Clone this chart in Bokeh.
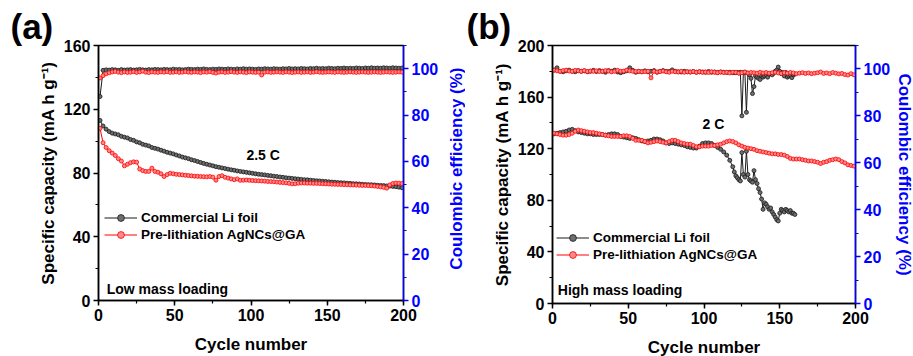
import math
from bokeh.plotting import figure
from bokeh.models import Range1d, LinearAxis, SingleIntervalTicker, Legend, LegendItem, Label
from bokeh.layouts import row
from bokeh.embed import file_html
from bokeh.resources import INLINE

FONT = "Liberation Sans"
BLUE = "#0000ff"
BLACK_LINE = "#1a1a1a"
BLACK_FILL = "#6e6e6e"
RED_LINE = "#ff0000"
RED_FILL = "#ff8a8a"

# ---------------- data: panel (a), low mass loading ----------------
cycles_a = list(range(1, 200, 2))
cap_li_a = [113, 109.5, 107.5, 106, 105, 104.5, 104, 103, 102.5, 102,
            101, 100.5, 99.5, 99, 98, 97.5, 97, 96, 95.5, 95,
            94.3, 93.7, 93, 92.5, 92, 91.3, 90.7, 90, 89.5, 89,
            88.3, 87.8, 87.2, 86.6, 86, 85.5, 85, 84.5, 84, 83.6,
            83.2, 82.8, 82.4, 82, 81.7, 81.3, 81, 80.7, 80.4, 80.1,
            79.8, 79.5, 79.2, 79, 78.8, 78.5, 78.3, 78, 77.8, 77.5,
            77.3, 77, 76.8, 76.6, 76.4, 76.2, 76, 75.8, 75.7, 75.5,
            75.3, 75.1, 75, 74.8, 74.7, 74.5, 74.3, 74.2, 74, 73.9,
            73.8, 73.6, 73.5, 73.3, 73.2, 73.1, 72.9, 72.8, 72.7, 72.6,
            72.5, 72.3, 72.2, 72.1, 71.9, 71.8, 71.6, 71.4, 71.1, 70.8]
cap_ag_a = [108, 99, 96, 94, 92.5, 91, 89, 87.5, 84.5, 85.5,
            86.5, 87, 86.8, 82.5, 81.5, 81, 81, 83, 81, 80.5,
            79.5, 77.8, 79, 79.8, 79.5, 79.2, 79, 78.8, 78.6, 78.4,
            78.2, 78, 77.9, 77.8, 77.7, 77.6, 77.8, 77.4, 75.5, 77.8,
            78.3, 77.3, 76.8, 76.3, 75.8, 76.3, 75.4, 75.5, 75.6, 75.4,
            75.3, 75.2, 75.1, 75, 74.9, 74.7, 74.6, 74.5, 74.3, 74.1,
            74, 73.8, 73.5, 73.2, 73.3, 73.6, 73.7, 73.7, 73.6, 73.6,
            73.5, 73.5, 73.4, 73.3, 73.2, 73.1, 73, 72.9, 72.8, 72.8,
            72.7, 72.6, 72.5, 72.5, 72.4, 72.3, 72.2, 72.2, 72.1, 72,
            71.8, 71.6, 71.3, 71, 70.5, 72.5, 73.4, 73.7, 73.6, 73.4]
ce_li_a = [88.0, 99.3, 99.5, 99.4, 99.6, 99.5, 99.3, 99.6, 99.4, 99.5,
           99.6, 99.4, 99.5, 99.7, 99.5, 99.4, 99.6, 99.5, 99.7, 99.6,
           99.5, 99.7, 99.6, 99.5, 99.8, 99.6, 99.7, 99.5, 99.6, 99.8,
           99.7, 99.6, 99.8, 99.7, 99.9, 99.7, 99.6, 99.8, 99.7, 99.9,
           99.8, 99.7, 99.9, 99.8, 99.7, 99.9, 99.8, 100.0, 99.8, 99.9,
           99.8, 99.7, 99.9, 99.8, 100.0, 99.9, 99.8, 100.0, 99.9, 99.8,
           100.0, 99.9, 100.1, 99.9, 100.0, 99.9, 100.1, 100.0, 99.9, 100.1,
           100.0, 100.2, 100.0, 100.1, 100.0, 100.2, 100.1, 100.0, 100.2, 100.1,
           100.3, 100.1, 100.2, 100.1, 100.3, 100.2, 100.1, 100.3, 100.2, 100.4,
           100.2, 100.3, 100.2, 100.4, 100.3, 100.2, 100.4, 100.3, 100.2, 100.3]
ce_ag_a = [96.0, 97.0, 97.8, 98.2, 98.6, 98.8, 98.5, 98.3, 98.6, 98.4,
           98.5, 98.7, 98.4, 98.6, 98.9, 98.5, 98.3, 98.6, 98.5, 98.4,
           98.6, 98.5, 98.7, 98.4, 98.5, 98.6, 98.4, 98.5, 98.7, 98.5,
           98.4, 98.6, 98.5, 98.3, 98.6, 98.5, 98.7, 98.4, 98.1, 98.5,
           98.6, 98.4, 98.5, 98.7, 98.5, 98.4, 98.6, 98.5, 98.3, 98.6,
           98.5, 98.4, 98.5, 97.3, 98.5, 98.6, 98.4, 98.5, 98.6, 98.5,
           98.4, 98.6, 98.5, 98.3, 98.5, 98.6, 98.4, 98.5, 98.6, 98.4,
           98.5, 98.7, 98.5, 98.4, 98.5, 98.6, 98.5, 98.4, 98.6, 98.5,
           98.4, 98.5, 98.6, 98.5, 98.4, 98.5, 98.6, 98.5, 98.4, 98.5,
           98.6, 98.5, 98.4, 98.5, 98.6, 98.5, 98.4, 98.5, 98.6, 98.5]

# ---------------- data: panel (b), high mass loading ----------------
cycles_b_ag = list(range(1, 200, 2))
cycles_b_li = list(range(1, 120, 2)) + list(range(120, 161))
cap_li_b = [131.5, 132, 132.5, 133, 133.5, 134.5, 135, 134, 133, 132.5,
            132, 131.5, 131.5, 131, 131, 131, 131, 130.5, 131, 131.5,
            131.5, 131, 129.5, 129, 128.5, 128, 128.5, 128, 127, 126,
            125.5, 126, 126.5, 127.5, 127.5, 127, 126, 124.5, 124, 124.5,
            124, 123.5, 123, 122.5, 121.5, 121, 120.5, 120.5, 122, 124,
            124.5, 124.5, 124, 122.5, 121, 119.5, 117.5, 115, 111, 106,
            102, 99, 97.5, 96, 95, 117, 100, 98, 118, 100,
            96, 95, 94, 103, 96, 93, 89, 86, 81, 73,
            78, 77, 75, 73, 74, 71, 69, 67, 65, 64,
            70, 73, 72, 71, 73, 72, 71, 72, 70, 70, 69]
ce_li_b = [99.5, 100.5, 99.0, 98.8, 99.2, 99.5, 99.0, 98.8, 99.3, 99.0,
           99.2, 98.8, 99.0, 99.4, 98.9, 99.3, 99.0, 98.6, 99.3, 99.0,
           99.5, 98.7, 98.4, 98.8, 99.2, 100.5, 99.4, 98.6, 99.0, 98.8,
           99.2, 98.8, 99.0, 99.3, 98.6, 99.0, 99.3, 99.0, 98.9, 99.6,
           99.0, 98.8, 98.7, 99.0, 98.8, 98.7, 98.9, 98.6, 98.8, 98.7,
           98.6, 98.9, 98.6, 98.7, 98.5, 98.7, 98.6, 98.5, 98.6, 98.4,
           98.5, 98.4, 98.5, 98.3, 98.6, 80.0, 98.5, 98.6, 81.5, 98.2,
           97.5, 96.0, 89.5, 92.5, 97.0, 96.5, 96.0, 95.5, 97.0, 96.5,
           97.0, 97.5, 96.5, 97.8, 98.0, 97.5, 98.2, 99.0, 99.5, 100.8,
           99.0, 98.0, 98.5, 97.0, 98.5, 96.5, 97.0, 97.5, 96.3, 97.5, 97.8]
cap_ag_b = [132, 131.5, 131, 130.5, 130.5, 131, 132, 133.5, 134.5, 134,
            133.5, 133, 132.5, 132.5, 132, 131.5, 131, 130.5, 130, 129.5,
            129.5, 129.5, 129.5, 130, 130, 129.5, 128, 126.5, 126.5, 126.5,
            125.5, 124.5, 125, 125.5, 126, 125.5, 125, 124.5, 125.5, 126.5,
            126.5, 125.5, 124.5, 124, 123.5, 123.5, 122.5, 121.5, 121.5, 122,
            122, 122, 122.5, 122.5, 123, 123.5, 124.5, 125.5, 126, 125.5,
            124.5, 123, 122, 121, 120.5, 120, 119.5, 118.5, 118, 117.5,
            117, 116.5, 116, 116, 115.5, 115.5, 115, 114, 112.5, 112,
            112, 112, 111.5, 111, 110.5, 110.5, 110, 109.5, 108.5, 109.5,
            110, 111, 111.5, 112, 111.5, 110, 109, 107.5, 107, 106.5]
ce_ag_b = [99.5, 99.2, 99.0, 99.3, 99.5, 99.1, 99.0, 99.4, 99.2, 99.0,
           99.3, 98.9, 99.1, 99.0, 99.2, 98.9, 99.0, 99.3, 99.1, 98.8,
           99.0, 99.4, 99.0, 99.1, 99.5, 99.2, 99.0, 98.9, 99.0, 98.8,
           98.9, 99.0, 96.2, 99.0, 98.7, 98.9, 99.1, 98.8, 98.6, 99.0,
           98.8, 98.7, 99.0, 98.6, 98.8, 98.7, 98.9, 98.6, 98.8, 98.6,
           98.7, 98.5, 98.8, 98.6, 98.4, 98.7, 98.5, 98.6, 98.3, 98.6,
           98.5, 98.2, 98.4, 98.7, 98.3, 98.5, 98.4, 98.2, 98.6, 98.3,
           98.5, 98.2, 98.4, 98.6, 98.3, 98.1, 98.4, 98.2, 98.5, 98.3,
           98.0, 98.2, 98.4, 98.1, 98.3, 98.0, 98.2, 98.4, 98.7, 98.1,
           98.3, 98.0, 98.5, 98.2, 97.9, 98.1, 97.6, 97.4, 98.0, 97.5]

series_names = ["Commercial Li foil", "Pre-lithiation AgNCs@GA"]
right_label_text = "Coulombic efficiency (%)"
x_ticks_interval = 50
ce_max = 110


def style_axis(ax, color="black"):
    ax.axis_line_width = 1.5
    ax.axis_line_color = color
    ax.major_tick_line_color = color
    ax.minor_tick_line_color = color
    ax.major_tick_line_width = 1.5
    ax.minor_tick_line_width = 1.2
    ax.major_tick_out = 5
    ax.major_tick_in = 0
    ax.minor_tick_out = 3
    ax.minor_tick_in = 0
    ax.major_label_text_font = FONT
    ax.major_label_text_font_size = "16px"
    ax.major_label_text_font_style = "bold"
    ax.major_label_text_color = color
    ax.axis_label_text_font = FONT
    ax.axis_label_text_font_size = "17px"
    ax.axis_label_text_font_style = "bold"
    ax.axis_label_text_color = color
    ax.major_label_standoff = 3
    ax.axis_label_standoff = 3


def make_panel(title, title_offset, cyc_li, cap_li, ce_li, cyc_ag, cap_ag, ce_ag, ymax,
               frame_w, frame_h, b_left, b_top, b_bottom, b_right, right_label, legend_loc):
    p = figure(output_backend="svg", toolbar_location=None, title=title,
               frame_width=frame_w, frame_height=frame_h,
               x_range=Range1d(0, 200), y_range=Range1d(0, ymax),
               min_border_left=b_left, min_border_top=b_top,
               min_border_bottom=b_bottom, min_border_right=b_right)
    p.title.text_font = FONT
    p.title.text_font_size = "35px"
    p.title.text_font_style = "bold"
    p.title.text_color = "black"
    p.title.align = "left"
    p.title.offset = title_offset
    p.title.standoff = 0
    p.extra_y_ranges = {"ce": Range1d(0, ce_max)}
    p.xgrid.visible = False
    p.ygrid.visible = False
    p.outline_line_color = "black"
    p.outline_line_width = 1.5
    p.background_fill_color = "white"
    p.border_fill_color = "white"

    p.xaxis.ticker = SingleIntervalTicker(interval=x_ticks_interval, num_minor_ticks=2)
    p.yaxis.ticker = SingleIntervalTicker(interval=40, num_minor_ticks=2)
    p.xaxis.axis_label = "Cycle number"
    p.yaxis.axis_label = "Specific capacity (mA h g\u207b\u00b9)"
    for ax in p.xaxis + p.yaxis:
        style_axis(ax)
    p.xaxis.axis_label_standoff = 11

    rax = LinearAxis(y_range_name="ce", ticker=SingleIntervalTicker(interval=20, num_minor_ticks=2))
    style_axis(rax, BLUE)
    rax.axis_label_standoff = 2
    if right_label:
        rax.axis_label = right_label_text
    p.add_layout(rax, "right")

    l1 = p.line(cyc_li, cap_li, line_color=BLACK_LINE, line_width=1)
    s1 = p.scatter(cyc_li, cap_li, size=4, line_color=BLACK_LINE, fill_color=BLACK_FILL, line_width=0.8)
    p.line(cyc_li, ce_li, line_color=BLACK_LINE, line_width=1, y_range_name="ce")
    p.scatter(cyc_li, ce_li, size=4, line_color=BLACK_LINE, fill_color=BLACK_FILL, line_width=0.8, y_range_name="ce")
    l2 = p.line(cyc_ag, cap_ag, line_color=RED_LINE, line_width=1)
    s2 = p.scatter(cyc_ag, cap_ag, size=4, line_color=RED_LINE, fill_color=RED_FILL, line_width=0.8)
    p.line(cyc_ag, ce_ag, line_color=RED_LINE, line_width=1, y_range_name="ce")
    p.scatter(cyc_ag, ce_ag, size=4, line_color=RED_LINE, fill_color=RED_FILL, line_width=0.8, y_range_name="ce")

    legend = Legend(items=[LegendItem(label=series_names[0], renderers=[l1, s1]),
                           LegendItem(label=series_names[1], renderers=[l2, s2])],
                    location=legend_loc, background_fill_alpha=0, border_line_alpha=0,
                    padding=0, margin=0, spacing=0, glyph_width=33, glyph_height=17,
                    label_height=17, label_standoff=4, label_text_font=FONT,
                    label_text_font_size="13.5px", label_text_font_style="bold",
                    label_text_color="black")
    p.add_layout(legend)
    return p


def add_text(p, x, y, text, size, **kw):
    p.add_layout(Label(x=x, y=y, text=text, text_font=FONT, text_font_size=size,
                       text_font_style="bold", text_color="black",
                       text_baseline="middle", text_align="left", **kw))


pa = make_panel("(a)", -88, cycles_a, cap_li_a, ce_li_a, cycles_a, cap_ag_a, ce_ag_a, 160, 305, 255,
                98, 45, 55, 35, False, (6, 57))
add_text(pa, 97, 91, "2.5 C", "14px")
add_text(pa, 5.4, 7.3, "Low mass loading", "14px")

# narrow strip that carries panel (a)'s right-axis title, reading bottom to top
strip_w = 24
strip_h = 355
ps = figure(output_backend="svg", toolbar_location=None, width=strip_w, height=strip_h,
            x_range=Range1d(0, strip_w), y_range=Range1d(strip_h, 0),
            x_axis_type=None, y_axis_type=None, min_border=0)
ps.outline_line_color = None
ps.xgrid.visible = False
ps.ygrid.visible = False
ps.add_layout(Label(x=15, y=172, text=right_label_text, angle=math.pi / 2,
                    text_font=FONT, text_font_size="17px", text_font_style="bold",
                    text_color=BLUE, text_align="center", text_baseline="middle"))

pb = make_panel("(b)", -86, cycles_b_li, cap_li_b, ce_li_b, cycles_b_ag, cap_ag_b, ce_ag_b, 200, 303, 258,
                87, 42, 55, 20, True, (4, 40))
add_text(pb, 99, 138.8, "2 C", "14px")
add_text(pb, 3.5, 10.6, "High mass loading", "14px")

layout = row(pa, ps, pb)
open("out.html", "w").write(file_html(layout, INLINE))
